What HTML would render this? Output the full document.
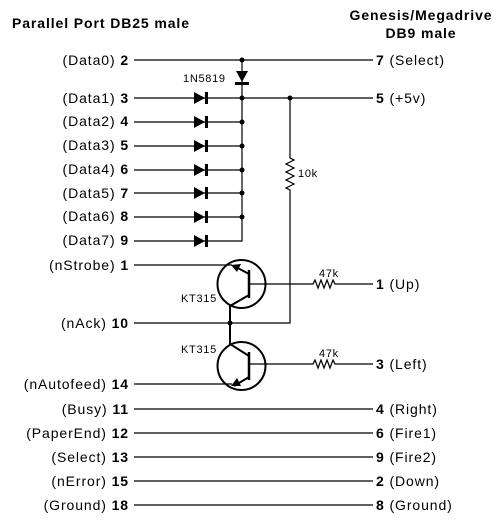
<!DOCTYPE html>
<html><head><style>
html,body{margin:0;padding:0;background:#fff}
svg{display:block}
text{font-family:"Liberation Sans",Arial,sans-serif;font-size:14px;fill:#000;letter-spacing:0.9px}
.b{font-weight:bold}
.s{font-size:11px;letter-spacing:0.7px}
</style></head><body>
<svg width="500" height="526" viewBox="0 0 500 526" xmlns="http://www.w3.org/2000/svg">
<text x="12" y="28" class="b">Parallel Port DB25 male</text>
<text x="421" y="20" class="b" text-anchor="middle">Genesis/Megadrive</text>
<text x="421" y="38" class="b" text-anchor="middle">DB9 male</text>

<g text-anchor="end">
<text x="129" y="65">(Data0) <tspan class="b">2</tspan></text>
<text x="129" y="103">(Data1) <tspan class="b">3</tspan></text>
<text x="129" y="126">(Data2) <tspan class="b">4</tspan></text>
<text x="129" y="150">(Data3) <tspan class="b">5</tspan></text>
<text x="129" y="174">(Data4) <tspan class="b">6</tspan></text>
<text x="129" y="198">(Data5) <tspan class="b">7</tspan></text>
<text x="129" y="221">(Data6) <tspan class="b">8</tspan></text>
<text x="129" y="245">(Data7) <tspan class="b">9</tspan></text>
<text x="129" y="270">(nStrobe) <tspan class="b">1</tspan></text>
<text x="129" y="328">(nAck) <tspan class="b">10</tspan></text>
<text x="129" y="389">(nAutofeed) <tspan class="b">14</tspan></text>
<text x="129" y="414">(Busy) <tspan class="b">11</tspan></text>
<text x="129" y="438">(PaperEnd) <tspan class="b">12</tspan></text>
<text x="129" y="462">(Select) <tspan class="b">13</tspan></text>
<text x="129" y="486">(nError) <tspan class="b">15</tspan></text>
<text x="129" y="510">(Ground) <tspan class="b">18</tspan></text>
</g>
<g>
<text x="376" y="65"><tspan class="b">7</tspan> (Select)</text>
<text x="376" y="103"><tspan class="b">5</tspan> (+5v)</text>
<text x="376" y="289"><tspan class="b">1</tspan> (Up)</text>
<text x="376" y="369"><tspan class="b">3</tspan> (Left)</text>
<text x="376" y="414"><tspan class="b">4</tspan> (Right)</text>
<text x="376" y="438"><tspan class="b">6</tspan> (Fire1)</text>
<text x="376" y="462"><tspan class="b">9</tspan> (Fire2)</text>
<text x="376" y="486"><tspan class="b">2</tspan> (Down)</text>
<text x="376" y="510"><tspan class="b">8</tspan> (Ground)</text>
</g>
<text x="183" y="82" class="s">1N5819</text>
<text x="298" y="177" class="s">10k</text>
<text x="181" y="302" class="s">KT315</text>
<text x="181" y="353" class="s">KT315</text>
<text x="319" y="277" class="s">47k</text>
<text x="319" y="357" class="s">47k</text>

<g stroke="#000" stroke-width="1.2" fill="none">
<path d="M134 60H373M134 98H373M134 409H373M134 433H373M134 457H373M134 481H373M134 505H373"/>
<path d="M134 122H242M134 146H242M134 170H242M134 193H242M134 217H242M134 241H242V60"/>
<path d="M290 98V158l4 2-8 4 8 4-8 4 8 4-8 4 8 4-8 4 4 2V323H134"/>
<path d="M134 265H232M134 384H232"/>
<circle cx="241.5" cy="284" r="24" stroke-width="2"/>
<circle cx="241.5" cy="366" r="24" stroke-width="2"/>
<path d="M249 270V298M249 352V380" stroke-width="2.5"/>
<path d="M249 274L234 266M249 295L230 306V344L249 356M249 377L234 386" stroke-width="2"/>
<path d="M249 284H313l2-4 3 8 3-8 3 8 3-8 3 8 3-8 2 4H373"/>
<path d="M249 364H313l2-4 3 8 3-8 3 8 3-8 3 8 3-8 2 4H373"/>
</g>
<g fill="#000">
<polygon points="231,265 241,264 237,272"/>
<polygon points="231,386 237,378 241,386"/>
<polygon points="236,71 248,71 242,82"/>
<rect x="235" y="82" width="14" height="3"/>
<g id="d"><polygon points="194,92 194,104 205,98"/><rect x="205" y="92" width="3" height="12"/></g>
<use href="#d" y="24"/><use href="#d" y="48"/><use href="#d" y="72"/><use href="#d" y="95"/><use href="#d" y="119"/><use href="#d" y="143"/>
<circle cx="242" cy="60" r="2.5"/><circle cx="242" cy="98" r="2.5"/><circle cx="290" cy="98" r="2.5"/>
<circle cx="242" cy="122" r="2.5"/><circle cx="242" cy="146" r="2.5"/><circle cx="242" cy="170" r="2.5"/>
<circle cx="242" cy="193" r="2.5"/><circle cx="242" cy="217" r="2.5"/>
<circle cx="230" cy="323" r="2.5"/>
</g>
</svg>
</body></html>
